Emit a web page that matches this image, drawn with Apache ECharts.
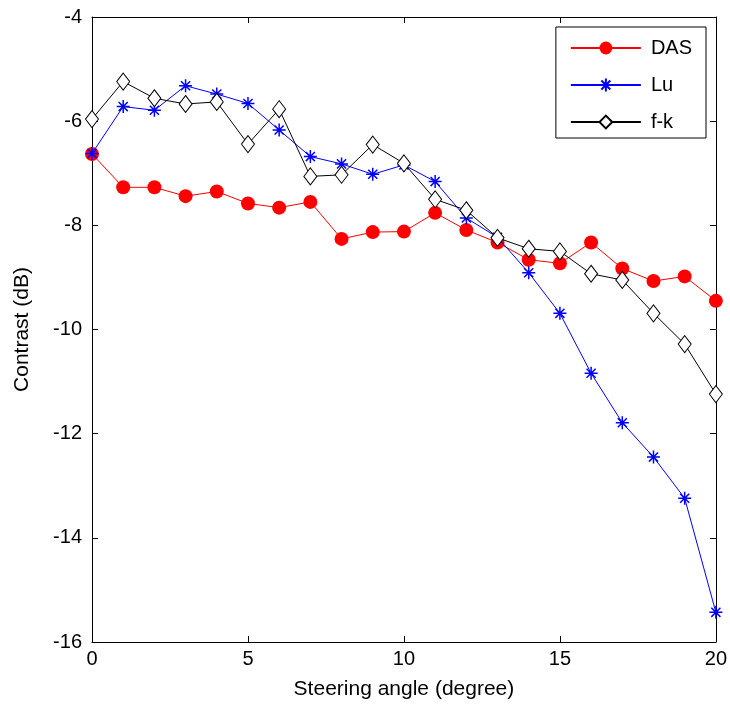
<!DOCTYPE html>
<html>
<head>
<meta charset="utf-8">
<script src="https://cdn.jsdelivr.net/npm/echarts@6/dist/echarts.min.js"></script>
<style>html,body{margin:0;padding:0;background:#fff}#c{width:730px;height:711px}</style>
</head>
<body>
<div id="c"></div>
<script>
const angles = [0,1,2,3,4,5,6,7,8,9,10,11,12,13,14,15,16,17,18,19,20];
const das = [-6.63,-7.27,-7.27,-7.44,-7.35,-7.58,-7.66,-7.55,-8.26,-8.13,-8.12,-7.76,-8.09,-8.33,-8.66,-8.73,-8.33,-8.83,-9.07,-8.98,-9.45];
const lu  = [-6.62,-5.72,-5.79,-5.32,-5.48,-5.66,-6.17,-6.68,-6.82,-7.02,-6.84,-7.16,-7.86,-8.23,-8.91,-9.69,-10.84,-11.79,-12.45,-13.24,-15.43];
const fk  = [-5.96,-5.24,-5.56,-5.67,-5.63,-6.44,-5.77,-7.06,-7.03,-6.45,-6.81,-7.50,-7.71,-8.24,-8.45,-8.50,-8.93,-9.05,-9.69,-10.28,-11.24];
const xTicks = [0,5,10,15,20];
const yTicks = [-16,-14,-12,-10,-8,-6,-4];

const font = 'Arial, "Liberation Sans", sans-serif';
const pair = a => angles.map((x,i)=>[x,a[i]]);
const asterisk = 'path://M10,0 L10,20 M0,10 L20,10 M3,3 L17,17 M3,17 L17,3';

const chart = echarts.init(document.getElementById('c'), null, {renderer:'canvas'});
const tickCommon = {show:true, inside:true, length:6, lineStyle:{color:'#000', width:1}};
chart.setOption({
  animation:false,
  backgroundColor:'#fff',
  grid:{left:92, right:14, top:17, bottom:69, containLabel:false},
  xAxis:[{
    type:'value', min:0, max:20, interval:5,
    name:'Steering angle (degree)', nameLocation:'middle', nameGap:37,
    nameTextStyle:{fontFamily:font, fontSize:21, color:'#000'},
    axisLine:{show:true, onZero:false, lineStyle:{color:'#000', width:1}},
    axisTick:tickCommon,
    axisLabel:{fontFamily:font, fontSize:20, color:'#000', margin:7},
    splitLine:{show:false}
  },{
    type:'value', min:0, max:20, interval:5, position:'top',
    axisLine:{show:true, onZero:false, lineStyle:{color:'#000', width:1}},
    axisTick:tickCommon, axisLabel:{show:false}, splitLine:{show:false}
  }],
  yAxis:[{
    type:'value', min:-16, max:-4, interval:2,
    name:'Contrast (dB)', nameLocation:'middle', nameGap:59, nameRotate:90,
    nameTextStyle:{fontFamily:font, fontSize:21, color:'#000'},
    axisLine:{show:true, onZero:false, lineStyle:{color:'#000', width:1}},
    axisTick:tickCommon,
    axisLabel:{fontFamily:font, fontSize:20, color:'#000', margin:10},
    splitLine:{show:false}
  },{
    type:'value', min:-16, max:-4, interval:2, position:'right',
    axisLine:{show:true, onZero:false, lineStyle:{color:'#000', width:1}},
    axisTick:tickCommon, axisLabel:{show:false}, splitLine:{show:false}
  }],
  legend:{
    orient:'vertical', right:24, top:27,
    backgroundColor:'#fff', borderColor:'#000', borderWidth:1, borderRadius:0,
    padding:[11,14,6,14], itemGap:17, itemWidth:70, itemHeight:16,
    textStyle:{fontFamily:font, fontSize:20, color:'#000', padding:[0,0,0,5]},
    data:['DAS','Lu','f-k']
  },
  series:[
    {name:'DAS', type:'line', data:pair(das), symbol:'circle', symbolSize:14,
     lineStyle:{color:'#ff0000', width:1}, itemStyle:{color:'#ff0000', borderColor:'#ff0000', borderWidth:0}, z:3},
    {name:'Lu', type:'line', data:pair(lu), symbol:asterisk, symbolSize:13,
     lineStyle:{color:'#0000ff', width:1}, itemStyle:{color:'#0000ff', borderColor:'#0000ff', borderWidth:1.5}, z:4},
    {name:'f-k', type:'line', data:pair(fk), symbol:'diamond', symbolSize:[13,17],
     lineStyle:{color:'#000', width:1}, itemStyle:{color:'#fff', borderColor:'#000', borderWidth:1}, z:5}
  ]
});
</script>
</body>
</html>
